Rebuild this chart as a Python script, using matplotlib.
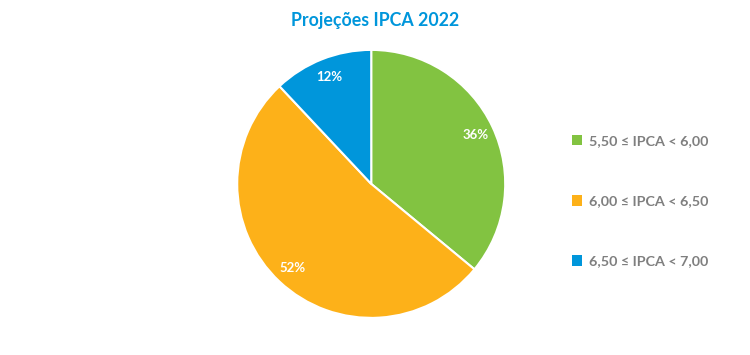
# Projeções IPCA 2022 - pie chart
import matplotlib
matplotlib.use('Agg')
import matplotlib.pyplot as plt
from matplotlib.patches import Patch

plt.rcParams['font.family'] = ['Lato', 'DejaVu Sans']

# data
faixas = ['5,50 ≤ IPCA < 6,00', '6,00 ≤ IPCA < 6,50', '6,50 ≤ IPCA < 7,00']
shares = [36, 52, 12]
colors = ['#82C341', '#FDB119', '#0096DB']

fig = plt.figure(figsize=(7.5, 3.55), dpi=100)
ax = fig.add_axes([0.495 - 0.1787, 0.482 - 0.3775, 0.3573, 0.755])

wedges, texts, autotexts = ax.pie(
    shares, colors=colors, startangle=90, counterclock=False,
    autopct='%1.0f%%', pctdistance=0.86,
    wedgeprops=dict(edgecolor='white', linewidth=1.5),
    textprops=dict(color='white', fontsize=9.5, fontweight='bold'))
ax.set_xlim(-1, 1)
ax.set_ylim(-1, 1)
ax.set_aspect('equal')

fig.text(0.5, 0.942, 'Projeções IPCA 2022', ha='center', va='center',
         color='#0096DB', fontsize=12.8, fontweight='bold')

handles = [Patch(facecolor=c, edgecolor='none') for c in colors]
leg = fig.legend(handles, faixas, loc='center left', bbox_to_anchor=(0.745, 0.433),
                 frameon=False, handlelength=0.75, handleheight=0.75,
                 handletextpad=0.45, labelspacing=3.35,
                 prop=dict(size=10.3, weight='bold'))
for t in leg.get_texts():
    t.set_color('#7F7F7F')

fig.savefig('out.png', dpi=100)
